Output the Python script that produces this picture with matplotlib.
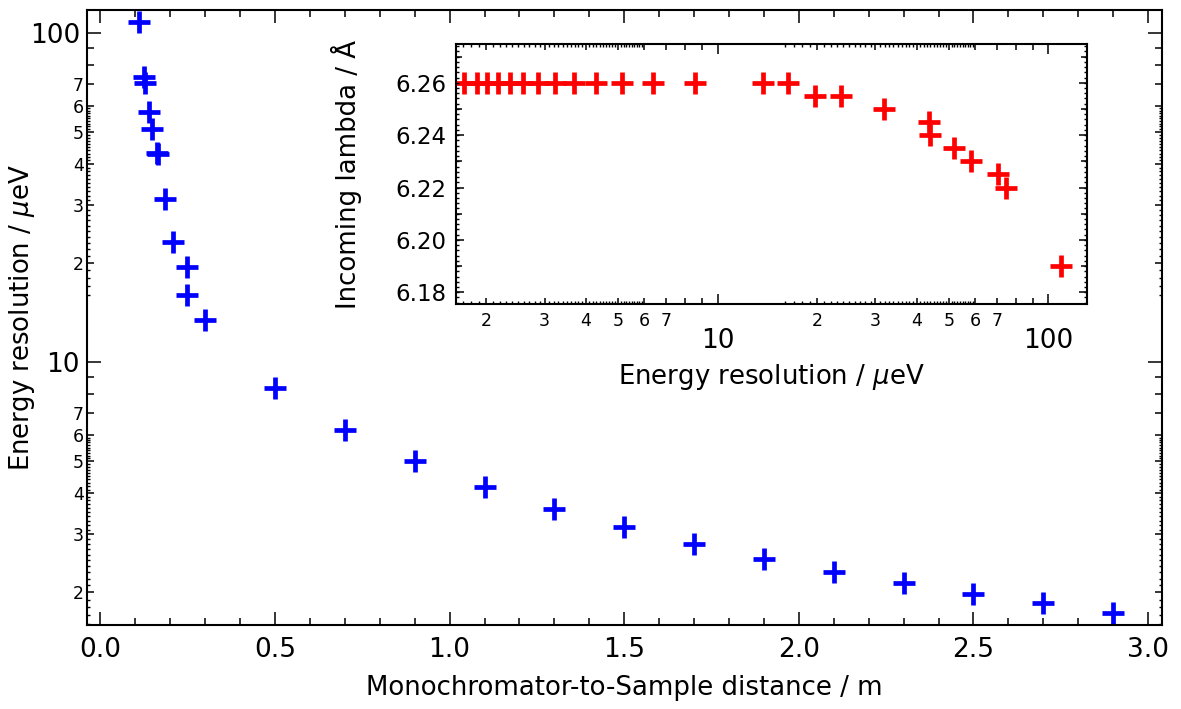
import matplotlib
matplotlib.use("Agg")
import matplotlib.pyplot as plt
import matplotlib.ticker as mticker
import numpy as np

plt.rcParams['font.family'] = ['DejaVu Sans']
plt.rcParams['mathtext.fontset'] = 'dejavusans'

# main chart: monochromator-to-sample distance (m) vs energy resolution (ueV)
distance = [0.11, 0.124, 0.129, 0.14, 0.149, 0.161, 0.166, 0.185, 0.209, 0.249, 0.249, 0.30,
            0.5, 0.7, 0.9, 1.1, 1.3, 1.5, 1.7, 1.9, 2.1, 2.3, 2.5, 2.7, 2.9]
energy = [107.8, 73.3, 70.3, 57.4, 51.0, 43.3, 42.8, 31.3, 23.2, 19.4, 16.0, 13.4,
          8.32, 6.24, 5.01, 4.18, 3.59, 3.16, 2.80, 2.53, 2.31, 2.13, 1.97, 1.85, 1.73]

# inset: energy resolution (ueV) vs incoming wavelength (A)
inset_energy = [108.9, 74.2, 70.5, 58.2, 51.8, 43.8, 43.5, 31.9, 23.6, 19.7, 16.3, 13.7,
                8.53, 6.38, 5.15, 4.28, 3.68, 3.22, 2.87, 2.58, 2.36, 2.17, 2.01, 1.87, 1.71]
inset_lambda = [6.19, 6.22, 6.225, 6.23, 6.235, 6.24, 6.245, 6.25, 6.255, 6.255, 6.26, 6.26,
                6.26, 6.26, 6.26, 6.26, 6.26, 6.26, 6.26, 6.26, 6.26, 6.26, 6.26, 6.26, 6.26]

main_xticks = [0.0, 0.5, 1.0, 1.5, 2.0, 2.5, 3.0]
decade_ticks = [10, 100]
mantissa_ticks = [2, 3, 4, 5, 6, 7, 8, 9, 20, 30, 40, 50, 60, 70, 80, 90]
inset_yticks = [6.18, 6.20, 6.22, 6.24, 6.26]


def mantissa_label(v, pos):
    m = int(round(v / 10 ** np.floor(np.log10(v) + 1e-9)))
    return str(m) if 2 <= m <= 7 else ""


# tiny ticks every 0.1 between 1.6 and 6 in each decade
sub = np.array([k / 10 for k in range(16, 60) if k % 10 != 0])
log_subticks = list(sub) + list(sub * 10)

fig = plt.figure(figsize=(11.81, 7.09), dpi=100)

# ---------- main axes ----------
ax = fig.add_axes([0.0737, 0.1185, 0.9103, 0.8675])
ax.plot(distance, energy, linestyle='none', marker='+', color='#0000ff',
        markersize=16, markeredgewidth=3.4)
ax.set_yscale('log')
ax.set_xlim(-0.038, 3.04)
ax.set_ylim(1.59, 117.5)

ax.xaxis.set_major_locator(mticker.FixedLocator(main_xticks))
ax.xaxis.set_major_formatter(mticker.FormatStrFormatter('%.1f'))
ax.xaxis.set_minor_locator(mticker.MultipleLocator(0.1))
ax.yaxis.set_major_locator(mticker.FixedLocator(decade_ticks))
ax.yaxis.set_major_formatter(mticker.FormatStrFormatter('%d'))
ax.yaxis.set_minor_locator(mticker.FixedLocator(mantissa_ticks))
ax.yaxis.set_minor_formatter(mticker.FuncFormatter(mantissa_label))

twin = ax.twinx()
twin.set_yscale('log')
twin.set_ylim(ax.get_ylim())
twin.yaxis.set_major_locator(mticker.FixedLocator(log_subticks))
twin.yaxis.set_minor_locator(mticker.NullLocator())
twin.tick_params(axis='y', which='major', direction='in', length=2.5, width=1.0,
                 left=True, right=True, labelleft=False, labelright=False)
for s in twin.spines.values():
    s.set_visible(False)

ax.tick_params(which='both', direction='in', top=True, right=True, width=1.1)
ax.tick_params(axis='x', which='major', length=9.5, labelsize=19, pad=8.5)
ax.tick_params(axis='x', which='minor', length=5)
ax.tick_params(axis='y', which='major', length=10, labelsize=19, pad=5)
ax.tick_params(axis='y', which='minor', length=5, labelsize=12.5, pad=2.5)
for s in ax.spines.values():
    s.set_linewidth(1.5)

ax.set_xlabel('Monochromator-to-Sample distance / m', fontsize=18.7)
ax.set_ylabel(r'Energy resolution / $\mu$eV', fontsize=18.7)
ax.xaxis.set_label_coords(0.5, -0.081)
ax.yaxis.set_label_coords(-0.047, 0.5)

# ---------- inset ----------
ins = fig.add_axes([0.3861, 0.5708, 0.5343, 0.3671])
ins.set_facecolor('white')
ins.plot(inset_energy, inset_lambda, linestyle='none', marker='+', color='#ff0000',
         markersize=16, markeredgewidth=3.4)
ins.set_xscale('log')
ins.set_xlim(1.62, 130.8)
ins.set_ylim(6.1754, 6.2748)

ins.xaxis.set_major_locator(mticker.FixedLocator(decade_ticks))
ins.xaxis.set_major_formatter(mticker.FormatStrFormatter('%d'))
ins.xaxis.set_minor_locator(mticker.FixedLocator(mantissa_ticks))
ins.xaxis.set_minor_formatter(mticker.FuncFormatter(mantissa_label))
ins.yaxis.set_major_locator(mticker.FixedLocator(inset_yticks))
ins.yaxis.set_major_formatter(mticker.FormatStrFormatter('%.2f'))
ins.yaxis.set_minor_locator(mticker.MultipleLocator(0.01))

tx = ins.twiny()
tx.set_xscale('log')
tx.set_xlim(ins.get_xlim())
tx.xaxis.set_major_locator(mticker.FixedLocator(log_subticks))
tx.xaxis.set_minor_locator(mticker.NullLocator())
tx.tick_params(axis='x', which='major', direction='in', length=2, width=1.0,
               top=True, bottom=True, labeltop=False, labelbottom=False)
ty = ins.twinx()
ty.set_ylim(ins.get_ylim())
ty.yaxis.set_major_locator(mticker.MultipleLocator(0.002))
ty.yaxis.set_minor_locator(mticker.NullLocator())
ty.tick_params(axis='y', which='major', direction='in', length=2.5, width=1.0,
               left=True, right=True, labelleft=False, labelright=False)
for t in (tx, ty):
    for s in t.spines.values():
        s.set_visible(False)

ins.tick_params(which='both', direction='in', top=True, right=True, width=1.1)
ins.tick_params(axis='x', which='major', length=7, labelsize=19, pad=17)
ins.tick_params(axis='x', which='minor', length=4, labelsize=12.5, pad=5.5)
ins.tick_params(axis='y', which='major', length=6, labelsize=16.5, pad=7)
ins.tick_params(axis='y', which='minor', length=4)
for s in ins.spines.values():
    s.set_linewidth(1.5)

ins.set_xlabel(r'Energy resolution / $\mu$eV', fontsize=18.7)
ins.set_ylabel('Incoming lambda / Å', fontsize=18.7)
ins.xaxis.set_label_coords(0.5, -0.22)
ins.yaxis.set_label_coords(-0.149, 0.5)

fig.savefig('out.png', dpi=100)
